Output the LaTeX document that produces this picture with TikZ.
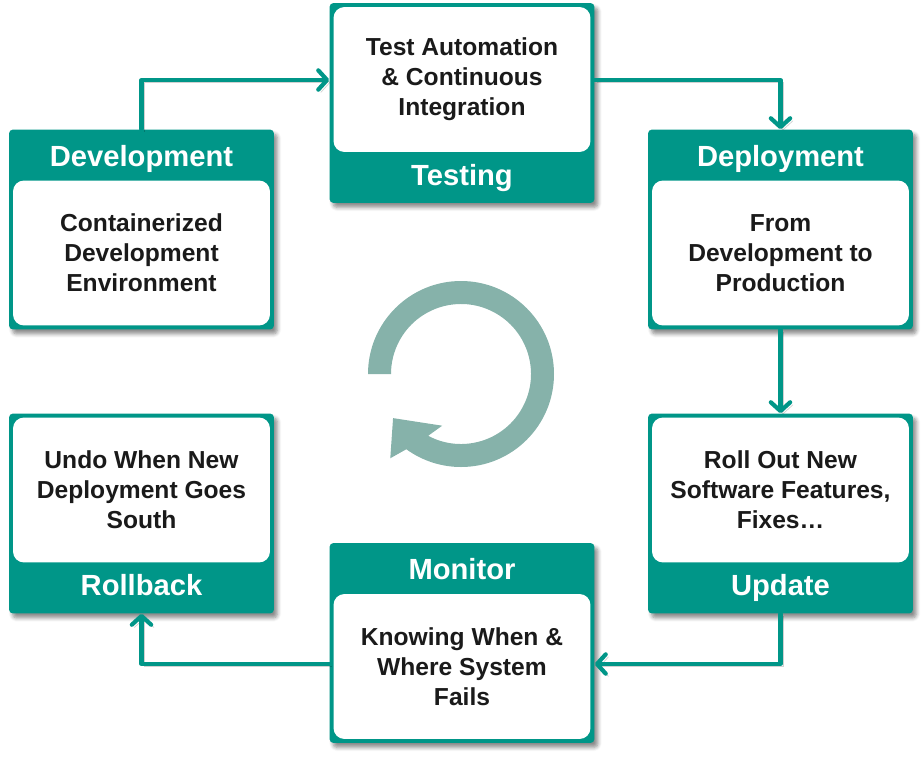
\documentclass[tikz,border=0pt]{standalone}
\usepackage{fontspec}
\setmainfont{Liberation Sans}
\usetikzlibrary{positioning,arrows.meta,shadows.blur}
\definecolor{devteal}{RGB}{0,150,136}
\definecolor{ringgrey}{RGB}{134,178,170}
\definecolor{bodytext}{RGB}{26,26,26}

\begin{document}
\begin{tikzpicture}[x=0.02cm,y=-0.02cm,
	outerbox/.style={fill=devteal,rounded corners=0.08cm,minimum width=5.3cm,minimum height=4cm,inner sep=0pt,
		blur shadow={shadow xshift=0.07cm,shadow yshift=-0.09cm,shadow blur steps=6,shadow opacity=45}},
	innerbox/.style={fill=white,rounded corners=0.22cm,minimum width=5.14cm,minimum height=2.9cm,inner sep=0pt,
		align=center,text=bodytext,font=\fontsize{14}{17}\selectfont\bfseries},
	title/.style={text=white,font=\fontsize{16.6}{20}\selectfont\bfseries,anchor=base,inner sep=0pt},
	flow/.style={draw=devteal,line width=2.4pt,line cap=round,line join=round,
		-{Straight Barb[length=5pt,width=11pt,round]},
		preaction={draw=black,opacity=0.18,transform canvas={xshift=1.5pt,yshift=-1.5pt}}}]
	\useasboundingbox (0,0) rectangle (924,758);

	\node[outerbox] (dev) at (141.5,229.5) {};
	\node[innerbox,anchor=south] (devtxt) at ([yshift=0.08cm]dev.south) {Containerized\\Development\\Environment};
	\node[title] (devtitle) at ([yshift=-0.74cm]dev.north) {Development};

	\node[outerbox] (test) at (462,103) {};
	\node[innerbox,anchor=north] (testtxt) at ([yshift=-0.08cm]test.north) {Test Automation\\\& Continuous\\Integration};
	\node[title] (testtitle) at ([yshift=0.36cm]test.south) {Testing};

	\node[outerbox] (dep) at (780.5,229.5) {};
	\node[innerbox,anchor=south] (deptxt) at ([yshift=0.08cm]dep.south) {From\\Development to\\Production};
	\node[title] (deptitle) at ([yshift=-0.74cm]dep.north) {Deployment};

	\node[outerbox] (upd) at (780.5,513.5) {};
	\node[innerbox,anchor=north] (updtxt) at ([yshift=-0.08cm]upd.north) {Roll Out New\\Software Features,\\Fixes…};
	\node[title] (updtitle) at ([yshift=0.36cm]upd.south) {Update};

	\node[outerbox] (mon) at (462,643) {};
	\node[innerbox,anchor=south] (montxt) at ([yshift=0.08cm]mon.south) {Knowing When \&\\Where System\\Fails};
	\node[title] (montitle) at ([yshift=-0.74cm]mon.north) {Monitor};

	\node[outerbox] (rol) at (141.5,513.5) {};
	\node[innerbox,anchor=north] (roltxt) at ([yshift=-0.08cm]rol.north) {Undo When New\\Deployment Goes\\South};
	\node[title] (roltitle) at ([yshift=0.36cm]rol.south) {Rollback};

	\draw[flow] (dev.north) |- ([yshift=0.46cm]test.west);
	\draw[flow] ([yshift=0.46cm]test.east) -| (dep.north);
	\draw[flow] (dep.south) -- (upd.north);
	\draw[flow] (upd.south) |- ([yshift=-0.42cm]mon.east);
	\draw[flow] ([yshift=-0.42cm]mon.west) -| (rol.south);

	\begin{scope}[shift={(461,374)},yscale=-1]
		\fill[ringgrey] (180:93) arc[start angle=180,end angle=-126,radius=93] -- (-130:110) -- (-147:81)
			-- (-110:55) -- (-118:70) arc[start angle=-118,end angle=180,radius=70] -- cycle;
	\end{scope}
\end{tikzpicture}
\end{document}
